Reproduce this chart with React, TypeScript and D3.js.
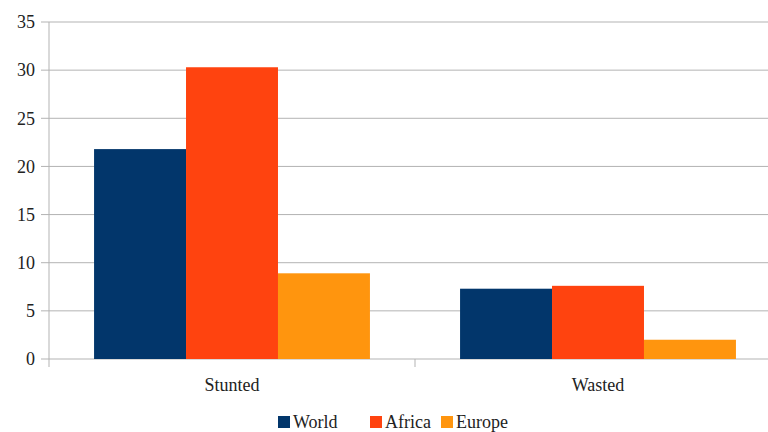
import React from "react";
import * as d3 from "d3";

const categories = ["Stunted", "Wasted"];
const seriesNames = ["World", "Africa", "Europe"];
const worldValues = [21.8, 7.3];
const africaValues = [30.3, 7.6];
const europeValues = [8.9, 2.0];
const yTicks = [0, 5, 10, 15, 20, 25, 30, 35];
const seriesColors = ["#02366b", "#ff430f", "#ff950e"];

const W = 768;
const H = 432;
const margin = { left: 49, right: -13, top: 22, bottom: 73 };
const FONT = "'Liberation Serif', 'DejaVu Serif', serif";

export default function App() {
  const plotRight = W - margin.right;
  const plotBottom = H - margin.bottom;

  const x = d3.scaleBand<string>().domain(categories).range([margin.left, plotRight]);
  const inner = d3
    .scaleBand<string>()
    .domain(seriesNames)
    .range([0, x.bandwidth()])
    .paddingOuter(0.49)
    .paddingInner(0);
  const y = d3.scaleLinear().domain([0, 35]).range([plotBottom, margin.top]);

  const values = [worldValues, africaValues, europeValues];

  const legendItems = [
    { x: 278, name: seriesNames[0], color: seriesColors[0] },
    { x: 370, name: seriesNames[1], color: seriesColors[1] },
    { x: 441, name: seriesNames[2], color: seriesColors[2] },
  ];

  const textStyle = { fontFamily: FONT };

  return (
    <svg width={W} height={H} style={{ position: "absolute", left: 0, top: 0, background: "#fff" }}>
      <rect x={0} y={0} width={W} height={H} fill="#fff" />
      {/* horizontal gridlines and y ticks */}
      {yTicks.map((t) => (
        <g key={t}>
          <line x1={margin.left} x2={plotRight} y1={y(t)} y2={y(t)} stroke="#b3b3b3" strokeWidth={1} />
          <line x1={margin.left - 8} x2={margin.left} y1={y(t)} y2={y(t)} stroke="#b3b3b3" strokeWidth={1} />
          <text x={35} y={y(t)} dy="0.35em" textAnchor="end" fontSize={18} fill="#222" style={textStyle}>
            {t}
          </text>
        </g>
      ))}
      {/* y axis line */}
      <line x1={margin.left} x2={margin.left} y1={margin.top} y2={plotBottom + 8} stroke="#b3b3b3" strokeWidth={1} />
      {/* category boundary ticks */}
      {categories.map((c) => (
        <line
          key={c}
          x1={(x(c) as number) + x.bandwidth()}
          x2={(x(c) as number) + x.bandwidth()}
          y1={plotBottom}
          y2={plotBottom + 8}
          stroke="#b3b3b3"
        />
      ))}
      {/* bars */}
      {categories.map((c, ci) =>
        seriesNames.map((s, si) => (
          <rect
            key={c + s}
            x={(x(c) as number) + (inner(s) as number)}
            width={inner.bandwidth()}
            y={y(values[si][ci])}
            height={plotBottom - y(values[si][ci])}
            fill={seriesColors[si]}
          />
        ))
      )}
      {/* category labels */}
      {categories.map((c) => (
        <text
          key={c}
          x={(x(c) as number) + x.bandwidth() / 2}
          y={391}
          textAnchor="middle"
          fontSize={18}
          fill="#222"
          style={textStyle}
        >
          {c}
        </text>
      ))}
      {/* legend */}
      {legendItems.map((it) => (
        <g key={it.name}>
          <rect x={it.x} y={416} width={12} height={12} fill={it.color} />
          <text x={it.x + 15} y={428} fontSize={18} fill="#222" style={textStyle}>
            {it.name}
          </text>
        </g>
      ))}
    </svg>
  );
}
